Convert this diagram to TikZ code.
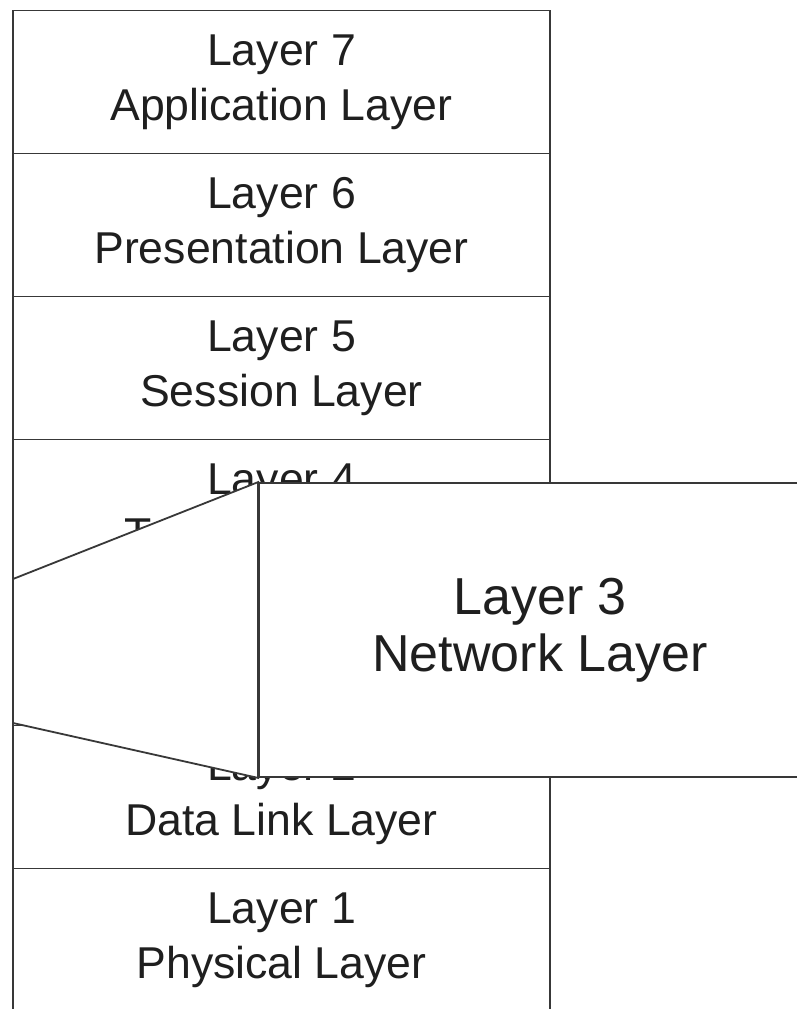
\documentclass[tikz,border=0pt]{standalone}
\usepackage{fontspec}
\setmainfont{Liberation Sans}
\begin{document}
\begin{tikzpicture}[x=1pt,y=-1pt,
  frame/.style={draw=black!78,line width=1.8pt},
  layerbox/.style={frame,fill=white,rectangle,inner sep=0pt,align=center,
    minimum width=537pt,minimum height=143pt,
    font=\fontsize{44.6}{55}\selectfont,text=black!88},
  zoombox/.style={frame,fill=white,rectangle,inner sep=0pt,align=center,
    minimum width=562pt,minimum height=294pt,
    font=\fontsize{52}{57}\selectfont,text=black!88}]
  \useasboundingbox (0,0) rectangle (797,1009);
  \clip (0,0) rectangle (797,1009);

  % the seven-layer stack
  \node[layerbox] (l7) at (281.5,82)  {Layer 7\\Application Layer};
  \node[layerbox] (l6) at (281.5,225) {Layer 6\\Presentation Layer};
  \node[layerbox] (l5) at (281.5,368) {Layer 5\\Session Layer};
  \node[layerbox] (l4) at (281.5,511) {Layer 4\\Transport Layer};
  \node[layerbox] (l3s) at (281.5,654) {};
  \node[layerbox] (l2) at (281.5,797) {Layer 2\\Data Link Layer};
  \node[layerbox] (l1) at (281.5,940) {Layer 1\\Physical Layer};

  % enlarged network layer with its projection funnel
  \node[zoombox] (l3) at (540,630) {Layer 3\\Network Layer};
  \coordinate (ftop) at (13,579);
  \coordinate (fbot) at (13,723);
  \draw[frame,fill=white] (ftop) -- (l3.north west) -- (l3.south west) -- (fbot) -- cycle;
\end{tikzpicture}
\end{document}
